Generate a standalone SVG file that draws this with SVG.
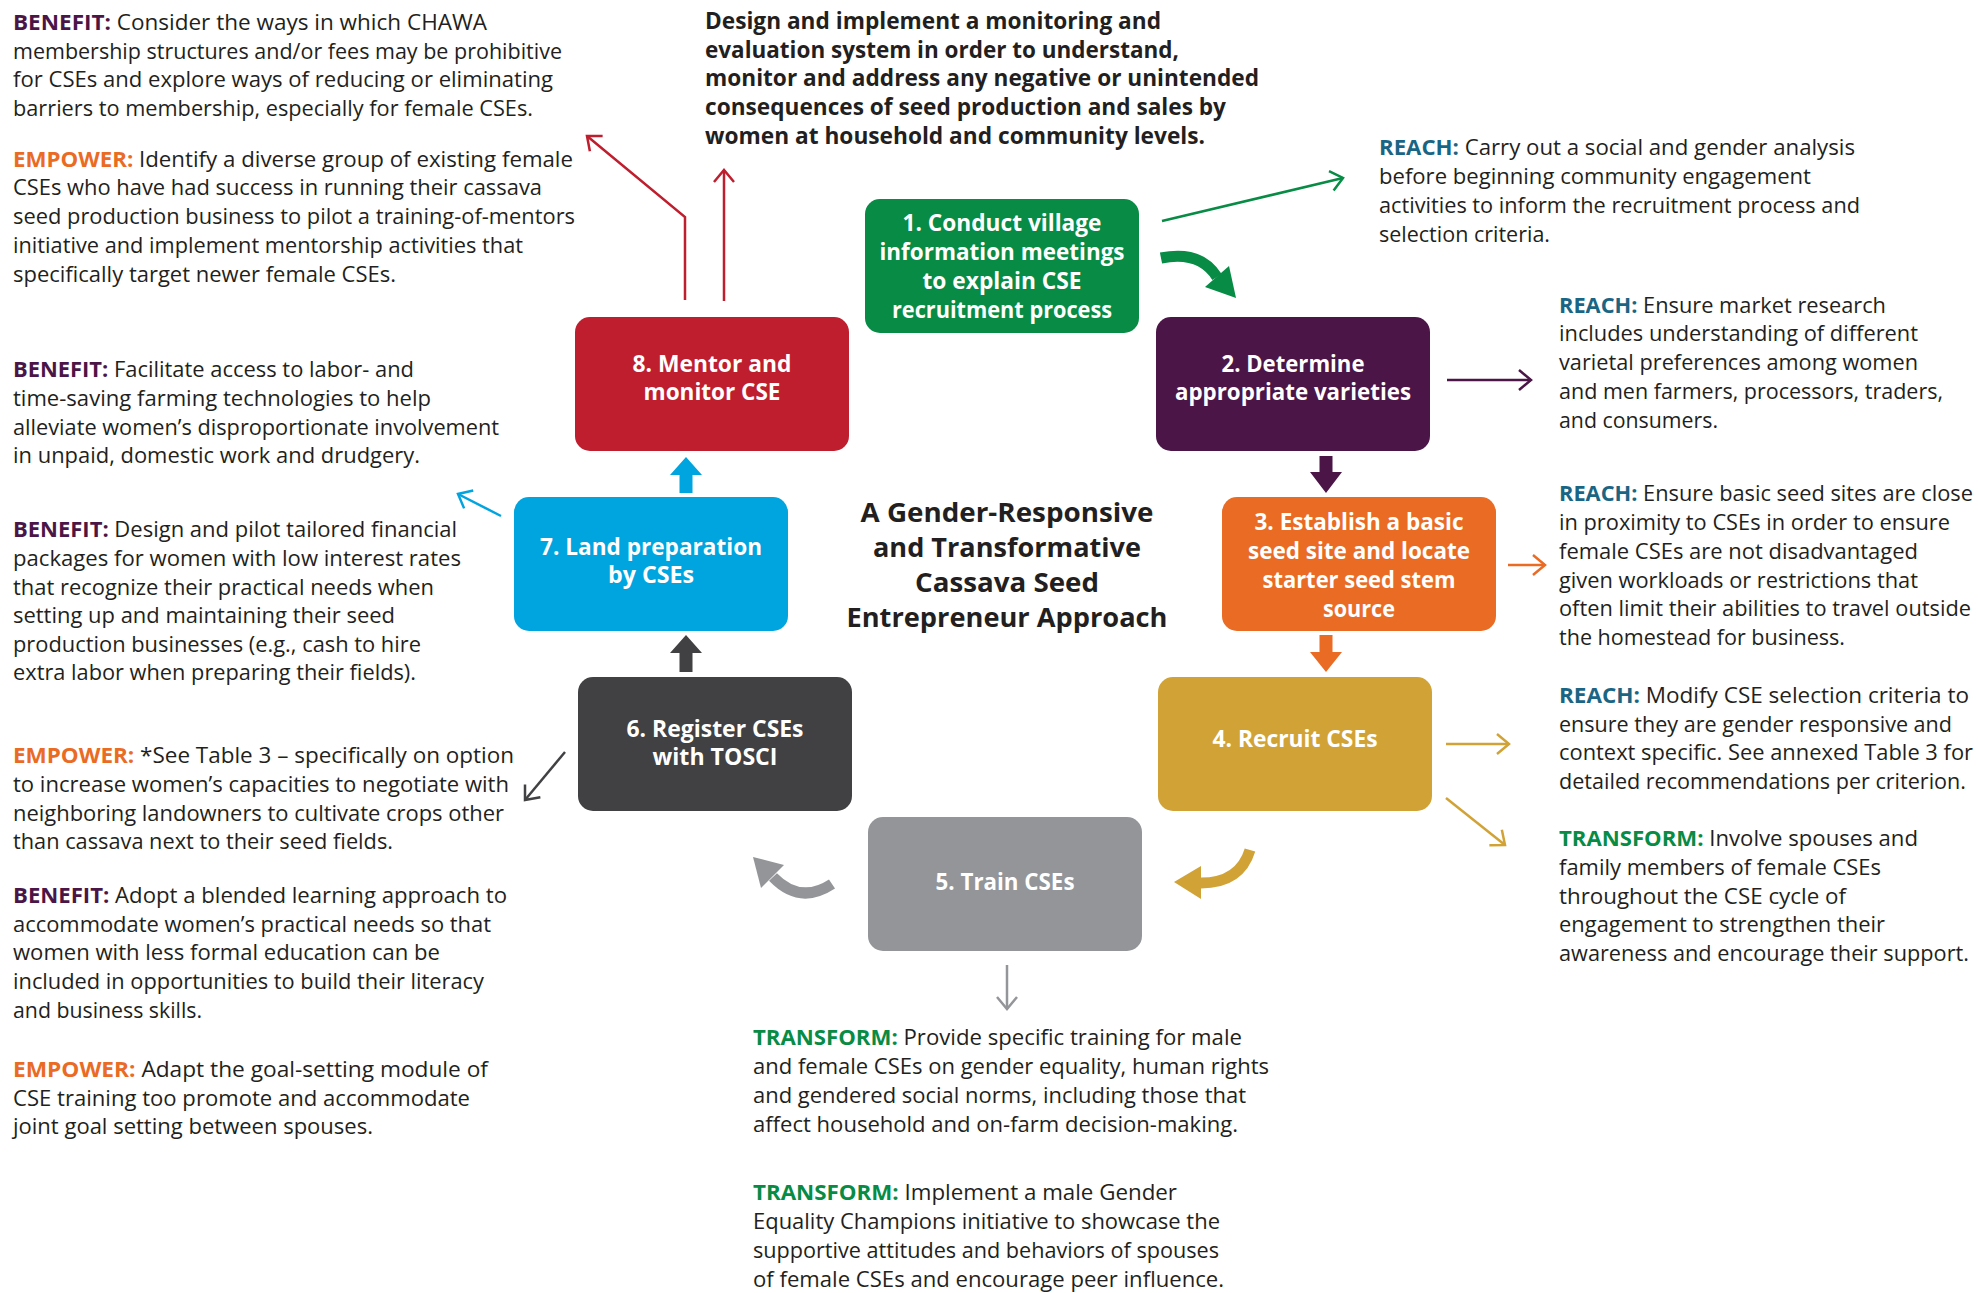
<svg xmlns="http://www.w3.org/2000/svg" width="1978" height="1293" viewBox="0 0 1978 1293">
<style>
  text { font-family: "Open Sans", "Noto Sans", "DejaVu Sans", sans-serif; }
  .b { font-size: 21.5px; fill: #231f20; }
  .lbl { font-weight: 700; }
  .benefit { fill: #4b1547; }
  .empower { fill: #ea6b24; }
  .reach { fill: #1a6584; }
  .transform { fill: #078b45; }
  .head { font-size: 22.5px; font-weight: 700; fill: #231f20; }
  .title { font-size: 27.5px; font-weight: 700; fill: #231f20; text-anchor: middle; }
  .node { font-size: 22.5px; font-weight: 700; fill: #ffffff; text-anchor: middle; }
  .thin { fill: none; stroke-width: 2.5; }
</style>
<defs>
  <marker id="mRed" markerUnits="userSpaceOnUse" markerWidth="30" markerHeight="30" refX="0" refY="0" viewBox="-15 -15 30 30" orient="auto"><path d="M-12,-10 L0,0 L-12,10" fill="none" stroke="#be1e2d" stroke-width="2.5"/></marker>
  <marker id="mGreen" markerUnits="userSpaceOnUse" markerWidth="30" markerHeight="30" refX="0" refY="0" viewBox="-15 -15 30 30" orient="auto"><path d="M-12,-10 L0,0 L-12,10" fill="none" stroke="#078b45" stroke-width="2.5"/></marker>
  <marker id="mPurple" markerUnits="userSpaceOnUse" markerWidth="30" markerHeight="30" refX="0" refY="0" viewBox="-15 -15 30 30" orient="auto"><path d="M-12,-10 L0,0 L-12,10" fill="none" stroke="#4b1547" stroke-width="2.5"/></marker>
  <marker id="mOrange" markerUnits="userSpaceOnUse" markerWidth="30" markerHeight="30" refX="0" refY="0" viewBox="-15 -15 30 30" orient="auto"><path d="M-12,-10 L0,0 L-12,10" fill="none" stroke="#ea6b24" stroke-width="2.5"/></marker>
  <marker id="mGold" markerUnits="userSpaceOnUse" markerWidth="30" markerHeight="30" refX="0" refY="0" viewBox="-15 -15 30 30" orient="auto"><path d="M-12,-10 L0,0 L-12,10" fill="none" stroke="#d1a337" stroke-width="2.5"/></marker>
  <marker id="mGray" markerUnits="userSpaceOnUse" markerWidth="30" markerHeight="30" refX="0" refY="0" viewBox="-15 -15 30 30" orient="auto"><path d="M-12,-10 L0,0 L-12,10" fill="none" stroke="#939598" stroke-width="2.5"/></marker>
  <marker id="mBlue" markerUnits="userSpaceOnUse" markerWidth="30" markerHeight="30" refX="0" refY="0" viewBox="-15 -15 30 30" orient="auto"><path d="M-12,-10 L0,0 L-12,10" fill="none" stroke="#00a5e0" stroke-width="2.5"/></marker>
  <marker id="mDark" markerUnits="userSpaceOnUse" markerWidth="30" markerHeight="30" refX="0" refY="0" viewBox="-15 -15 30 30" orient="auto"><path d="M-12,-10 L0,0 L-12,10" fill="none" stroke="#414042" stroke-width="2.5"/></marker>
</defs>
<rect width="1978" height="1293" fill="#ffffff"/>

<g id="connectors">
  <polyline class="thin" stroke="#be1e2d" points="685,300 685,217 587,136" marker-end="url(#mRed)"/>
  <line class="thin" stroke="#be1e2d" x1="724" y1="301" x2="724" y2="170" marker-end="url(#mRed)"/>
  <line class="thin" stroke="#078b45" x1="1162" y1="221" x2="1343" y2="178" marker-end="url(#mGreen)"/>
  <line class="thin" stroke="#4b1547" x1="1447" y1="380" x2="1531" y2="380" marker-end="url(#mPurple)"/>
  <line class="thin" stroke="#ea6b24" x1="1508" y1="565" x2="1545" y2="565" marker-end="url(#mOrange)"/>
  <line class="thin" stroke="#d1a337" x1="1446" y1="744" x2="1509" y2="744" marker-end="url(#mGold)"/>
  <line class="thin" stroke="#d1a337" x1="1446" y1="798" x2="1505" y2="845" marker-end="url(#mGold)"/>
  <line class="thin" stroke="#939598" x1="1007" y1="965" x2="1007" y2="1009" marker-end="url(#mGray)"/>
  <line class="thin" stroke="#00a5e0" x1="501" y1="516" x2="458" y2="494" marker-end="url(#mBlue)"/>
  <line class="thin" stroke="#414042" x1="565" y1="752" x2="525" y2="800" marker-end="url(#mDark)"/>
  <path d="M1319.5,456 H1332.5 V472 H1342 L1326,493 L1310,472 H1319.5 Z" fill="#4b1547"/>
  <path d="M1319.5,635 H1332.5 V652 H1342 L1326,672 L1310,652 H1319.5 Z" fill="#ea6b24"/>
  <path d="M679.5,493 H692.5 V475 H702 L686,457 L670,475 H679.5 Z" fill="#00a5e0"/>
  <path d="M679.5,672 H692.5 V653 H702 L686,635 L670,653 H679.5 Z" fill="#414042"/>
  <path d="M1161,258 Q1200,250 1217,277" fill="none" stroke="#078b45" stroke-width="11"/>
  <polygon points="1236,298 1229,266 1205,287" fill="#078b45"/>
  <path d="M1250,850 Q1240,883 1201,883" fill="none" stroke="#d1a337" stroke-width="11"/>
  <polygon points="1174,882 1201,866 1201,899" fill="#d1a337"/>
  <path d="M832,884 Q800,905 773,877" fill="none" stroke="#939598" stroke-width="11"/>
  <polygon points="753,857 784,865 761,888" fill="#939598"/>
</g>

<g id="node1">
  <rect x="865" y="199" width="274" height="134" rx="15" fill="#078b45"/>
  <text class="node" x="1002" y="231" textLength="199" lengthAdjust="spacingAndGlyphs">1. Conduct village</text>
  <text class="node" x="1002" y="260" textLength="245" lengthAdjust="spacingAndGlyphs">information meetings</text>
  <text class="node" x="1002" y="289" textLength="159" lengthAdjust="spacingAndGlyphs">to explain CSE</text>
  <text class="node" x="1002" y="318" textLength="220" lengthAdjust="spacingAndGlyphs">recruitment process</text>
</g>
<g id="node2">
  <rect x="1156" y="317" width="274" height="134" rx="15" fill="#4b1547"/>
  <text class="node" x="1293" y="372" textLength="143" lengthAdjust="spacingAndGlyphs">2. Determine</text>
  <text class="node" x="1293" y="400" textLength="236" lengthAdjust="spacingAndGlyphs">appropriate varieties</text>
</g>
<g id="node3">
  <rect x="1222" y="497" width="274" height="134" rx="15" fill="#ea6b24"/>
  <text class="node" x="1359" y="530" textLength="209" lengthAdjust="spacingAndGlyphs">3. Establish a basic</text>
  <text class="node" x="1359" y="559" textLength="222" lengthAdjust="spacingAndGlyphs">seed site and locate</text>
  <text class="node" x="1359" y="588" textLength="193" lengthAdjust="spacingAndGlyphs">starter seed stem</text>
  <text class="node" x="1359" y="617" textLength="72" lengthAdjust="spacingAndGlyphs">source</text>
</g>
<g id="node4">
  <rect x="1158" y="677" width="274" height="134" rx="15" fill="#d1a337"/>
  <text class="node" x="1295" y="747" textLength="165" lengthAdjust="spacingAndGlyphs">4. Recruit CSEs</text>
</g>
<g id="node5">
  <rect x="868" y="817" width="274" height="134" rx="15" fill="#939598"/>
  <text class="node" x="1005" y="890" textLength="139" lengthAdjust="spacingAndGlyphs">5. Train CSEs</text>
</g>
<g id="node6">
  <rect x="578" y="677" width="274" height="134" rx="15" fill="#414042"/>
  <text class="node" x="715" y="737" textLength="177" lengthAdjust="spacingAndGlyphs">6. Register CSEs</text>
  <text class="node" x="715" y="765" textLength="125" lengthAdjust="spacingAndGlyphs">with TOSCI</text>
</g>
<g id="node7">
  <rect x="514" y="497" width="274" height="134" rx="15" fill="#00a5e0"/>
  <text class="node" x="651" y="555" textLength="222" lengthAdjust="spacingAndGlyphs">7. Land preparation</text>
  <text class="node" x="651" y="583" textLength="86" lengthAdjust="spacingAndGlyphs">by CSEs</text>
</g>
<g id="node8">
  <rect x="575" y="317" width="274" height="134" rx="15" fill="#be1e2d"/>
  <text class="node" x="712" y="372" textLength="159" lengthAdjust="spacingAndGlyphs">8. Mentor and</text>
  <text class="node" x="712" y="400" textLength="137" lengthAdjust="spacingAndGlyphs">monitor CSE</text>
</g>

<g id="title">
  <text class="title" x="1007" y="522" textLength="293" lengthAdjust="spacingAndGlyphs">A Gender-Responsive</text>
  <text class="title" x="1007" y="557" textLength="268" lengthAdjust="spacingAndGlyphs">and Transformative</text>
  <text class="title" x="1007" y="592" textLength="184" lengthAdjust="spacingAndGlyphs">Cassava Seed</text>
  <text class="title" x="1007" y="627" textLength="321" lengthAdjust="spacingAndGlyphs">Entrepreneur Approach</text>
</g>

<g id="monitoring-note">
  <text class="head" x="705" y="29" textLength="456" lengthAdjust="spacingAndGlyphs">Design and implement a monitoring and</text>
  <text class="head" x="705" y="58" textLength="474" lengthAdjust="spacingAndGlyphs">evaluation system in order to understand,</text>
  <text class="head" x="705" y="86" textLength="554" lengthAdjust="spacingAndGlyphs">monitor and address any negative or unintended</text>
  <text class="head" x="705" y="115" textLength="521" lengthAdjust="spacingAndGlyphs">consequences of seed production and sales by</text>
  <text class="head" x="705" y="144" textLength="500" lengthAdjust="spacingAndGlyphs">women at household and community levels.</text>
</g>

<g id="notes-left">
  <text class="b" x="13" y="30" textLength="474" lengthAdjust="spacingAndGlyphs"><tspan class="lbl benefit">BENEFIT:</tspan> Consider the ways in which CHAWA</text>
  <text class="b" x="13" y="59" textLength="549" lengthAdjust="spacingAndGlyphs">membership structures and/or fees may be prohibitive</text>
  <text class="b" x="13" y="87" textLength="540" lengthAdjust="spacingAndGlyphs">for CSEs and explore ways of reducing or eliminating</text>
  <text class="b" x="13" y="116" textLength="520" lengthAdjust="spacingAndGlyphs">barriers to membership, especially for female CSEs.</text>

  <text class="b" x="13" y="167" textLength="560" lengthAdjust="spacingAndGlyphs"><tspan class="lbl empower">EMPOWER:</tspan> Identify a diverse group of existing female</text>
  <text class="b" x="13" y="195" textLength="529" lengthAdjust="spacingAndGlyphs">CSEs who have had success in running their cassava</text>
  <text class="b" x="13" y="224" textLength="562" lengthAdjust="spacingAndGlyphs">seed production business to pilot a training-of-mentors</text>
  <text class="b" x="13" y="253" textLength="510" lengthAdjust="spacingAndGlyphs">initiative and implement mentorship activities that</text>
  <text class="b" x="13" y="282" textLength="383" lengthAdjust="spacingAndGlyphs">specifically target newer female CSEs.</text>

  <text class="b" x="13" y="377" textLength="401" lengthAdjust="spacingAndGlyphs"><tspan class="lbl benefit">BENEFIT:</tspan> Facilitate access to labor- and</text>
  <text class="b" x="13" y="406" textLength="418" lengthAdjust="spacingAndGlyphs">time-saving farming technologies to help</text>
  <text class="b" x="13" y="435" textLength="486" lengthAdjust="spacingAndGlyphs">alleviate women’s disproportionate involvement</text>
  <text class="b" x="13" y="463" textLength="407" lengthAdjust="spacingAndGlyphs">in unpaid, domestic work and drudgery.</text>

  <text class="b" x="13" y="537" textLength="444" lengthAdjust="spacingAndGlyphs"><tspan class="lbl benefit">BENEFIT:</tspan> Design and pilot tailored financial</text>
  <text class="b" x="13" y="566" textLength="448" lengthAdjust="spacingAndGlyphs">packages for women with low interest rates</text>
  <text class="b" x="13" y="595" textLength="421" lengthAdjust="spacingAndGlyphs">that recognize their practical needs when</text>
  <text class="b" x="13" y="623" textLength="382" lengthAdjust="spacingAndGlyphs">setting up and maintaining their seed</text>
  <text class="b" x="13" y="652" textLength="408" lengthAdjust="spacingAndGlyphs">production businesses (e.g., cash to hire</text>
  <text class="b" x="13" y="680" textLength="403" lengthAdjust="spacingAndGlyphs">extra labor when preparing their fields).</text>

  <text class="b" x="13" y="763" textLength="501" lengthAdjust="spacingAndGlyphs"><tspan class="lbl empower">EMPOWER:</tspan> *See Table 3 – specifically on option</text>
  <text class="b" x="13" y="792" textLength="496" lengthAdjust="spacingAndGlyphs">to increase women’s capacities to negotiate with</text>
  <text class="b" x="13" y="821" textLength="491" lengthAdjust="spacingAndGlyphs">neighboring landowners to cultivate crops other</text>
  <text class="b" x="13" y="849" textLength="380" lengthAdjust="spacingAndGlyphs">than cassava next to their seed fields.</text>

  <text class="b" x="13" y="903" textLength="494" lengthAdjust="spacingAndGlyphs"><tspan class="lbl benefit">BENEFIT:</tspan> Adopt a blended learning approach to</text>
  <text class="b" x="13" y="932" textLength="478" lengthAdjust="spacingAndGlyphs">accommodate women’s practical needs so that</text>
  <text class="b" x="13" y="960" textLength="427" lengthAdjust="spacingAndGlyphs">women with less formal education can be</text>
  <text class="b" x="13" y="989" textLength="471" lengthAdjust="spacingAndGlyphs">included in opportunities to build their literacy</text>
  <text class="b" x="13" y="1018" textLength="189" lengthAdjust="spacingAndGlyphs">and business skills.</text>

  <text class="b" x="13" y="1077" textLength="475" lengthAdjust="spacingAndGlyphs"><tspan class="lbl empower">EMPOWER:</tspan> Adapt the goal-setting module of</text>
  <text class="b" x="13" y="1106" textLength="457" lengthAdjust="spacingAndGlyphs">CSE training too promote and accommodate</text>
  <text class="b" x="13" y="1134" textLength="360" lengthAdjust="spacingAndGlyphs">joint goal setting between spouses.</text>
</g>

<g id="notes-right">
  <text class="b" x="1379" y="155" textLength="476" lengthAdjust="spacingAndGlyphs"><tspan class="lbl reach">REACH:</tspan> Carry out a social and gender analysis</text>
  <text class="b" x="1379" y="184" textLength="432" lengthAdjust="spacingAndGlyphs">before beginning community engagement</text>
  <text class="b" x="1379" y="213" textLength="481" lengthAdjust="spacingAndGlyphs">activities to inform the recruitment process and</text>
  <text class="b" x="1379" y="242" textLength="171" lengthAdjust="spacingAndGlyphs">selection criteria.</text>

  <text class="b" x="1559" y="313" textLength="327" lengthAdjust="spacingAndGlyphs"><tspan class="lbl reach">REACH:</tspan> Ensure market research</text>
  <text class="b" x="1559" y="341" textLength="359" lengthAdjust="spacingAndGlyphs">includes understanding of different</text>
  <text class="b" x="1559" y="370" textLength="359" lengthAdjust="spacingAndGlyphs">varietal preferences among women</text>
  <text class="b" x="1559" y="399" textLength="384" lengthAdjust="spacingAndGlyphs">and men farmers, processors, traders,</text>
  <text class="b" x="1559" y="428" textLength="159" lengthAdjust="spacingAndGlyphs">and consumers.</text>

  <text class="b" x="1559" y="501" textLength="414" lengthAdjust="spacingAndGlyphs"><tspan class="lbl reach">REACH:</tspan> Ensure basic seed sites are close</text>
  <text class="b" x="1559" y="530" textLength="391" lengthAdjust="spacingAndGlyphs">in proximity to CSEs in order to ensure</text>
  <text class="b" x="1559" y="559" textLength="359" lengthAdjust="spacingAndGlyphs">female CSEs are not disadvantaged</text>
  <text class="b" x="1559" y="588" textLength="359" lengthAdjust="spacingAndGlyphs">given workloads or restrictions that</text>
  <text class="b" x="1559" y="616" textLength="412" lengthAdjust="spacingAndGlyphs">often limit their abilities to travel outside</text>
  <text class="b" x="1559" y="645" textLength="286" lengthAdjust="spacingAndGlyphs">the homestead for business.</text>

  <text class="b" x="1559" y="703" textLength="410" lengthAdjust="spacingAndGlyphs"><tspan class="lbl reach">REACH:</tspan> Modify CSE selection criteria to</text>
  <text class="b" x="1559" y="732" textLength="393" lengthAdjust="spacingAndGlyphs">ensure they are gender responsive and</text>
  <text class="b" x="1559" y="760" textLength="414" lengthAdjust="spacingAndGlyphs">context specific. See annexed Table 3 for</text>
  <text class="b" x="1559" y="789" textLength="407" lengthAdjust="spacingAndGlyphs">detailed recommendations per criterion.</text>

  <text class="b" x="1559" y="846" textLength="359" lengthAdjust="spacingAndGlyphs"><tspan class="lbl transform">TRANSFORM:</tspan> Involve spouses and</text>
  <text class="b" x="1559" y="875" textLength="322" lengthAdjust="spacingAndGlyphs">family members of female CSEs</text>
  <text class="b" x="1559" y="904" textLength="287" lengthAdjust="spacingAndGlyphs">throughout the CSE cycle of</text>
  <text class="b" x="1559" y="932" textLength="326" lengthAdjust="spacingAndGlyphs">engagement to strengthen their</text>
  <text class="b" x="1559" y="961" textLength="410" lengthAdjust="spacingAndGlyphs">awareness and encourage their support.</text>
</g>

<g id="notes-bottom">
  <text class="b" x="753" y="1045" textLength="489" lengthAdjust="spacingAndGlyphs"><tspan class="lbl transform">TRANSFORM:</tspan> Provide specific training for male</text>
  <text class="b" x="753" y="1074" textLength="516" lengthAdjust="spacingAndGlyphs">and female CSEs on gender equality, human rights</text>
  <text class="b" x="753" y="1103" textLength="493" lengthAdjust="spacingAndGlyphs">and gendered social norms, including those that</text>
  <text class="b" x="753" y="1132" textLength="485" lengthAdjust="spacingAndGlyphs">affect household and on-farm decision-making.</text>

  <text class="b" x="753" y="1200" textLength="424" lengthAdjust="spacingAndGlyphs"><tspan class="lbl transform">TRANSFORM:</tspan> Implement a male Gender</text>
  <text class="b" x="753" y="1229" textLength="467" lengthAdjust="spacingAndGlyphs">Equality Champions initiative to showcase the</text>
  <text class="b" x="753" y="1258" textLength="466" lengthAdjust="spacingAndGlyphs">supportive attitudes and behaviors of spouses</text>
  <text class="b" x="753" y="1287" textLength="471" lengthAdjust="spacingAndGlyphs">of female CSEs and encourage peer influence.</text>
</g>
</svg>
